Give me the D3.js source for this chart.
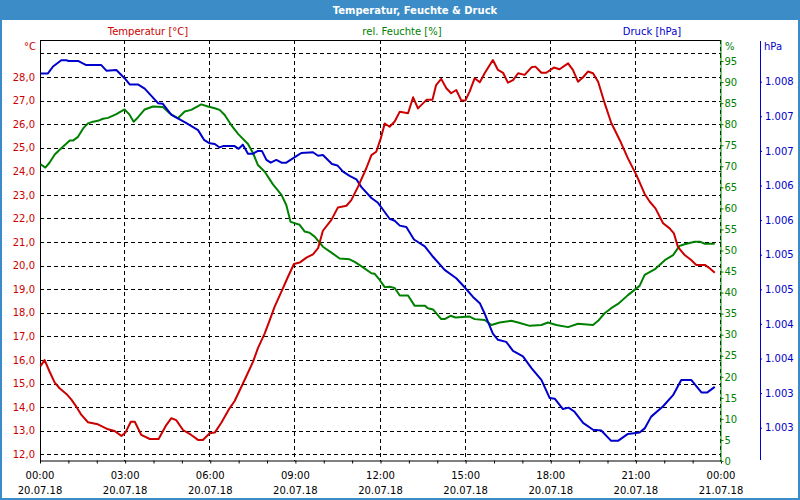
<!DOCTYPE html>
<html><head><meta charset="utf-8">
<script src="https://cdn.jsdelivr.net/npm/d3@7"></script>
<style>
html,body{margin:0;padding:0;background:#fff;}
svg text{font-family:"DejaVu Sans",Verdana,sans-serif;}
</style></head>
<body>
<svg id="chart" width="800" height="500"></svg>
<script>
// ---- data ----
const chartTitle = "Temperatur, Feuchte & Druck";
const seriesNames = ["Temperatur [°C]", "rel. Feuchte [%]", "Druck [hPa]"];
const timeTickHours = [0, 3, 6, 9, 12, 15, 18, 21, 24];
const timeTickLabels = ["00:00", "03:00", "06:00", "09:00", "12:00", "15:00", "18:00", "21:00", "00:00"];
const dateTickLabels = ["20.07.18", "20.07.18", "20.07.18", "20.07.18", "20.07.18", "20.07.18", "20.07.18", "20.07.18", "21.07.18"];
const tempTicks = [12, 13, 14, 15, 16, 17, 18, 19, 20, 21, 22, 23, 24, 25, 26, 27, 28];
const tempGrid = [12, 13, 14, 15, 16, 17, 18, 19, 20, 21, 22, 23, 24, 25, 26, 27, 28, 29];
const humTicks = [0, 5, 10, 15, 20, 25, 30, 35, 40, 45, 50, 55, 60, 65, 70, 75, 80, 85, 90, 95];
const presTicks = [1008, 1007.5, 1007, 1006.5, 1006, 1005.5, 1005, 1004.5, 1004, 1003.5, 1003];
const presTickLabels = ["1.008", "1.007", "1.007", "1.006", "1.006", "1.005", "1.005", "1.004", "1.004", "1.003", "1.003"];

const tempHours = [0.02,0.16,0.34,0.52,0.69,0.93,1.10,1.28,1.46,1.69,2.04,2.40,2.63,2.87,3.01,3.20,3.34,3.57,3.87,4.18,4.45,4.63,4.80,5.04,5.33,5.57,5.74,5.98,6.16,6.39,6.68,6.86,7.21,7.51,7.68,7.92,8.10,8.27,8.56,8.74,8.95,9.15,9.39,9.62,9.80,9.97,10.27,10.50,10.80,10.97,11.21,11.50,11.68,11.85,12.01,12.15,12.32,12.50,12.68,12.97,13.15,13.32,13.62,13.83,13.96,14.14,14.32,14.49,14.67,14.85,14.99,15.14,15.32,15.50,15.67,15.96,16.14,16.32,16.49,16.67,16.85,17.08,17.32,17.46,17.67,17.84,18.11,18.31,18.61,18.78,18.96,19.14,19.31,19.49,19.67,19.90,20.13,20.43,20.72,21.02,21.31,21.49,21.69,21.96,22.19,22.34,22.48,22.72,22.95,23.13,23.43,23.60,23.78];
const tempValues = [15.74,16.0,15.50,15.04,14.80,14.56,14.33,14.02,13.67,13.36,13.27,13.06,12.99,12.78,12.92,13.38,13.38,12.82,12.65,12.65,13.24,13.53,13.45,13.03,12.82,12.61,12.61,12.89,12.92,13.34,13.95,14.26,15.15,15.93,16.50,17.13,17.70,18.26,19.04,19.53,20.07,20.13,20.34,20.48,20.74,21.48,21.94,22.47,22.54,22.78,23.35,24.13,24.69,24.83,25.40,26.03,25.89,26.11,26.53,26.46,27.14,26.67,27.03,27.03,27.66,27.92,27.52,27.31,27.45,27.0,27.0,27.38,27.95,27.78,28.16,28.72,28.30,28.18,27.76,27.87,28.16,28.09,28.41,28.44,28.18,28.18,28.40,28.33,28.58,28.30,27.80,27.99,28.23,28.16,27.80,26.89,26.06,25.33,24.55,23.84,23.04,22.71,22.43,21.80,21.58,21.37,20.80,20.45,20.24,20.03,20.03,19.89,19.70];

const humHours = [0.02,0.19,0.34,0.52,0.75,1.05,1.16,1.34,1.52,1.69,1.87,2.04,2.22,2.40,2.69,2.98,3.14,3.30,3.45,3.69,3.98,4.33,4.57,4.86,5.10,5.33,5.68,5.92,6.16,6.33,6.51,6.74,6.98,7.33,7.51,7.68,7.92,8.21,8.51,8.68,8.83,9.15,9.33,9.50,9.68,9.97,10.27,10.56,10.91,11.09,11.32,11.68,11.79,11.97,12.15,12.32,12.50,12.68,12.97,13.20,13.56,13.67,13.85,14.14,14.26,14.47,14.64,15.14,15.32,15.67,15.91,16.20,16.61,16.85,17.26,17.67,17.90,18.20,18.61,18.96,19.49,19.67,19.90,20.13,20.37,20.72,21.13,21.31,21.66,22.02,22.31,22.54,22.72,23.07,23.25,23.43,23.78];
const humValues = [70.5,69.7,70.9,72.8,74.3,76.1,76.1,77.0,79.0,80.2,80.6,80.8,81.3,81.5,82.4,83.5,82.4,80.6,81.6,83.5,84.2,84.1,82.6,81.4,83.0,83.4,84.7,84.2,83.8,83.4,82.2,79.8,77.7,75.3,73.1,70.3,68.7,65.7,63.2,60.8,56.8,56.1,54.5,54.2,53.3,50.9,49.5,48.1,47.9,47.3,46.3,44.6,44.5,43.0,41.3,41.4,41.1,39.3,39.3,36.9,36.9,36.3,36.0,33.7,33.7,34.5,34.1,34.3,33.7,33.5,32.3,32.9,33.3,32.9,32.1,32.3,32.9,32.3,31.8,32.6,32.3,33.3,35.1,36.3,37.3,39.4,41.6,44.2,45.5,47.7,48.9,51.1,51.5,52.1,52.1,51.6,51.6];

const presHours = [0.02,0.28,0.46,0.75,0.93,1.01,1.34,1.63,2.16,2.34,2.69,2.98,3.16,3.45,3.69,4.16,4.33,4.63,4.86,5.16,5.57,5.78,5.98,6.16,6.33,6.45,6.86,7.00,7.15,7.33,7.51,7.68,7.82,7.98,8.13,8.33,8.51,8.68,8.98,9.21,9.62,9.80,9.97,10.29,10.48,10.68,10.91,11.15,11.32,11.68,11.91,12.09,12.32,12.50,12.68,12.91,13.18,13.56,13.85,14.26,14.67,14.94,15.26,15.50,15.67,15.96,16.14,16.43,16.67,17.02,17.32,17.67,17.96,18.14,18.43,18.63,18.84,19.14,19.49,19.78,20.13,20.37,20.72,21.13,21.31,21.54,21.96,22.31,22.60,22.95,23.31,23.52,23.78];
const presValues = [1008.12,1008.12,1008.22,1008.31,1008.31,1008.30,1008.30,1008.24,1008.24,1008.16,1008.17,1008.05,1007.96,1007.96,1007.90,1007.69,1007.68,1007.52,1007.47,1007.40,1007.30,1007.16,1007.11,1007.10,1007.05,1007.07,1007.07,1007.03,1007.09,1006.96,1006.96,1007.00,1007.00,1006.87,1006.83,1006.87,1006.83,1006.83,1006.91,1006.97,1006.98,1006.93,1006.94,1006.81,1006.79,1006.70,1006.64,1006.59,1006.48,1006.32,1006.25,1006.15,1006.02,1005.99,1005.92,1005.90,1005.72,1005.62,1005.47,1005.28,1005.16,1005.04,1004.89,1004.80,1004.65,1004.36,1004.27,1004.24,1004.11,1004.03,1003.86,1003.69,1003.43,1003.42,1003.27,1003.29,1003.23,1003.07,1002.97,1002.96,1002.81,1002.81,1002.91,1002.93,1002.99,1003.16,1003.31,1003.47,1003.69,1003.69,1003.51,1003.51,1003.59];

// ---- drawing ----
const RED = "#cc0000", GREEN = "#008000", BLUE = "#0000cc", FRAME = "#3c8dc7";
const svg = d3.select("#chart");
const W = 800, H = 500;
const L = 40, R = 721, T = 40, B = 461;

const x = d3.scaleLinear().domain([0, 24]).range([L, R]);
const yT = d3.scaleLinear().domain([12, 28]).range([454.3, 77]);
const yH = d3.scaleLinear().domain([0, 100]).range([B, T]);
const yP = d3.scaleLinear().domain([1003, 1008]).range([427.7, 81.7]);

// window frame + title bar
svg.append("rect").attr("x", 0).attr("y", 0).attr("width", W).attr("height", H).attr("fill", "#fff");
svg.append("rect").attr("x", 0).attr("y", 0).attr("width", W).attr("height", 20).attr("fill", FRAME);
svg.append("rect").attr("x", 1).attr("y", 1).attr("width", W - 2).attr("height", H - 2)
  .attr("fill", "none").attr("stroke", FRAME).attr("stroke-width", 2);
svg.append("text").attr("x", 415).attr("y", 10).attr("dy", "0.36em").attr("text-anchor", "middle")
  .attr("fill", "#fff").attr("font-weight", "bold").attr("font-size", "10px").text(chartTitle);

// series legend labels
const legendColors = [RED, GREEN, BLUE];
const legendX = [148, 402, 652];
seriesNames.forEach((n, i) => {
  svg.append("text").attr("x", legendX[i]).attr("y", 31).attr("dy", "0.35em")
    .attr("text-anchor", "middle").attr("fill", legendColors[i]).attr("font-size", "10px").text(n);
});

// grid
const grid = svg.append("g").attr("stroke", "#000").attr("stroke-width", 1).attr("stroke-dasharray", "4,3").attr("fill", "none");
tempGrid.forEach(v => {
  const yy = Math.round(yT(v)) + 0.5;
  grid.append("line").attr("x1", L).attr("x2", R).attr("y1", yy).attr("y2", yy);
});
timeTickHours.filter(h => h > 0).forEach(h => {
  const xx = Math.round(x(h)) - 0.5;
  grid.append("line").attr("x1", xx).attr("x2", xx).attr("y1", T).attr("y2", B);
});

// frame lines
svg.append("line").attr("x1", L).attr("x2", R).attr("y1", T + 0.5).attr("y2", T + 0.5).attr("stroke", "#000");
svg.append("line").attr("x1", L + 0.5).attr("x2", L + 0.5).attr("y1", T).attr("y2", B).attr("stroke", "#000");

// bottom axis
const xAxis = d3.axisBottom(x).tickValues(d3.range(0, 25, 1)).tickSize(3).tickFormat("");
const gx = svg.append("g").attr("transform", `translate(0,${B - 0.5})`).call(xAxis);
gx.select(".domain").attr("stroke", "#000").attr("d", `M${L},0.5H${R}`);
gx.selectAll(".tick line").attr("stroke", "#000");
timeTickHours.forEach((h, i) => {
  svg.append("text").attr("x", x(h)).attr("y", 479).attr("text-anchor", "middle")
    .attr("fill", "#000").attr("font-size", "10px").text(timeTickLabels[i]);
  svg.append("text").attr("x", x(h)).attr("y", 494).attr("text-anchor", "middle")
    .attr("fill", "#000").attr("font-size", "10px").text(dateTickLabels[i]);
});

// left temperature axis labels
tempTicks.forEach(v => {
  svg.append("text").attr("x", 35).attr("y", yT(v)).attr("dy", "0.36em").attr("text-anchor", "end")
    .attr("fill", RED).attr("font-size", "10px").text(d3.format(".1f")(v).replace(".", ","));
});
svg.append("text").attr("x", 36).attr("y", 46).attr("dy", "0.36em").attr("text-anchor", "end")
  .attr("fill", RED).attr("font-size", "10px").text("°C");

// humidity axis
const hAxis = d3.axisRight(yH).tickValues(humTicks).tickSize(3).tickPadding(1);
const gh = svg.append("g").attr("transform", `translate(${R - 0.5},0)`).call(hAxis);
gh.select(".domain").attr("stroke", GREEN).attr("d", `M0.5,${T}V${B}`);
gh.selectAll(".tick line").attr("stroke", GREEN);
gh.selectAll(".tick text").attr("fill", GREEN).attr("font-size", "10px").attr("font-family", "DejaVu Sans");
svg.append("text").attr("x", 725).attr("y", 46).attr("dy", "0.36em")
  .attr("fill", GREEN).attr("font-size", "10px").text("%");

// pressure axis
const pAxis = d3.axisRight(yP).tickValues(presTicks).tickSize(2).tickPadding(3)
  .tickFormat((d, i) => presTickLabels[i]);
const gp = svg.append("g").attr("transform", `translate(760,0)`).call(pAxis);
gp.select(".domain").attr("stroke", BLUE).attr("d", `M0.5,${T + 1}V${B - 1}`);
gp.selectAll(".tick line").attr("stroke", BLUE);
gp.selectAll(".tick text").attr("fill", BLUE).attr("font-size", "10px").attr("font-family", "DejaVu Sans");
svg.append("text").attr("x", 764).attr("y", 46).attr("dy", "0.36em")
  .attr("fill", BLUE).attr("font-size", "10px").text("hPa");

// series lines
function drawLine(hours, vals, yScale, color) {
  const pts = hours.map((h, i) => [h, vals[i]]);
  const line = d3.line().x(d => x(d[0])).y(d => yScale(d[1]));
  svg.append("path").datum(pts).attr("d", line).attr("fill", "none")
    .attr("stroke", color).attr("stroke-width", 2).attr("stroke-linejoin", "round");
}
drawLine(humHours, humValues, yH, GREEN);
drawLine(presHours, presValues, yP, BLUE);
drawLine(tempHours, tempValues, yT, RED);
</script>
</body></html>
